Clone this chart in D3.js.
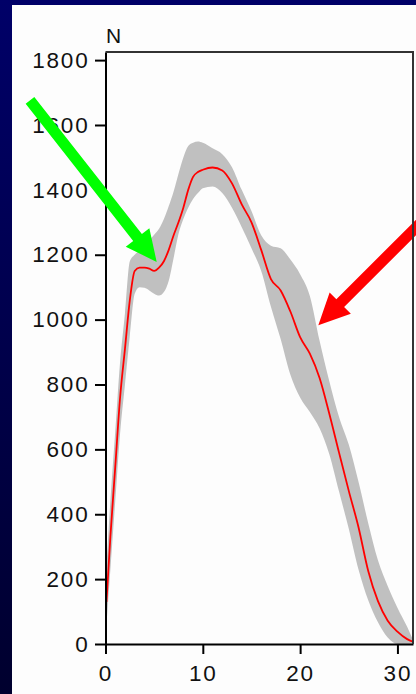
<!DOCTYPE html>
<html>
<head>
<meta charset="utf-8">
<script src="https://cdn.jsdelivr.net/npm/d3@7"></script>
<style>
  body { margin: 0; background: #000050; }
  svg { display: block; }
  .tick text { font-family: "Liberation Sans", Arial, sans-serif; font-size: 22.5px; letter-spacing: 1.8px; fill: #111; }
</style>
</head>
<body>
<div id="chart"></div>
<script>
// time (s) on x
const times = [0.1, 0.5, 1, 1.5, 2, 2.5, 3, 3.5, 4, 4.5, 5, 5.5, 6, 6.5, 7, 7.5, 8, 8.5, 9, 9.5,
  10, 11, 12, 13, 14, 15, 16, 17, 18, 19, 20, 21, 22, 23, 24, 25, 26, 27, 28, 29, 30, 31, 31.6];
// mean force (N), red line
const meanForce = [130, 330, 545, 760, 910, 1060, 1150, 1160, 1160, 1157, 1150, 1160, 1180, 1215, 1260, 1300, 1345, 1400, 1440, 1455,
  1462, 1469, 1460, 1420, 1355, 1300, 1215, 1125, 1090, 1025, 946, 895, 820, 710, 590, 472, 360, 225, 132, 72, 38, 15, 7];
// grey band
const upperForce = [240, 440, 655, 870, 1020, 1180, 1200, 1212, 1225, 1245, 1262, 1280, 1310, 1350, 1395, 1450, 1500, 1535, 1545, 1549,
  1545, 1528, 1510, 1470, 1400, 1335, 1260, 1228, 1220, 1185, 1140, 1073, 935, 810, 700, 615, 500, 372, 258, 179, 112, 53, 12];
const lowerForce = [60, 230, 440, 650, 800, 950, 1080, 1100, 1098, 1090, 1080, 1074, 1085, 1120, 1190, 1264, 1310, 1345, 1372, 1390,
  1405, 1410, 1390, 1345, 1285, 1220, 1150, 1040, 940, 830, 760, 715, 665, 585, 470, 355, 230, 135, 67, 20, 0, 0, 0];

const yTicks = [0, 200, 400, 600, 800, 1000, 1200, 1400, 1600, 1800];
const xTicks = [0, 10, 20, 30];
const yLabel = 'N';

// annotation arrows, tail -> tip in data units
const arrows = [
  { color: '#00ff00', from: [-7.76, 1676], to: [5.26, 1178] },
  { color: '#ff0000', from: [34.4, 1359], to: [21.87, 983] },
];

const W = 416;
const H = 694;
const margin = { top: 52, right: 3, bottom: 50, left: 105.5 };

const svg = d3.select('#chart').append('svg')
  .attr('width', W)
  .attr('height', H);

const grad = svg.append('defs').append('linearGradient')
  .attr('id', 'bg')
  .attr('x1', 0).attr('y1', 0).attr('x2', 0).attr('y2', 1);
grad.append('stop').attr('offset', '0%').attr('stop-color', '#000068');
grad.append('stop').attr('offset', '100%').attr('stop-color', '#00002e');

svg.append('rect').attr('width', W).attr('height', H).attr('fill', 'url(#bg)');
svg.append('rect').attr('x', 12).attr('y', 5).attr('width', W - 12).attr('height', H - 5).attr('fill', '#fdfdfd');

const x = d3.scaleLinear().domain([0, 31.6]).range([margin.left, W - margin.right]);
const y = d3.scaleLinear().domain([0, 1825]).range([H - margin.bottom, margin.top]);

const rows = times.map((t, i) => ({
  t, mean: meanForce[i], hi: upperForce[i], lo: lowerForce[i],
}));

svg.append('path')
  .datum(rows)
  .attr('fill', '#c0c0c0')
  .attr('d', d3.area()
    .x(d => x(d.t))
    .y0(d => y(d.lo))
    .y1(d => y(d.hi))
    .curve(d3.curveMonotoneX));

svg.append('path')
  .datum(rows)
  .attr('fill', 'none')
  .attr('stroke', '#ff0000')
  .attr('stroke-width', 1.8)
  .attr('d', d3.line()
    .x(d => x(d.t))
    .y(d => y(d.mean))
    .curve(d3.curveMonotoneX));

const yAxis = svg.append('g')
  .attr('transform', `translate(${margin.left}, 0)`)
  .call(d3.axisLeft(y).tickValues(yTicks).tickFormat(d3.format('d'))
    .tickSize(10.5).tickPadding(5.5).tickSizeOuter(0));

const xAxis = svg.append('g')
  .attr('transform', `translate(0, ${H - margin.bottom})`)
  .call(d3.axisBottom(x).tickValues(xTicks).tickFormat(d3.format('d'))
    .tickSize(10).tickPadding(11).tickSizeOuter(0));

[yAxis, xAxis].forEach((g) => {
  g.select('.domain').attr('stroke', '#000').attr('stroke-width', 2);
  g.selectAll('.tick line').attr('stroke', '#000').attr('stroke-width', 2);
});

svg.append('text')
  .attr('x', margin.left + 0.5)
  .attr('y', 43)
  .style('font-family', '"Liberation Sans", Arial, sans-serif')
  .style('font-size', '21px')
  .attr('fill', '#111')
  .text(yLabel);

function arrowPath(x0, y0, x1, y1, shaftW, headW, headL) {
  const dx = x1 - x0;
  const dy = y1 - y0;
  const len = Math.sqrt(dx * dx + dy * dy);
  const ux = dx / len;
  const uy = dy / len;
  const px = -uy;
  const py = ux;
  const bx = x1 - ux * headL;
  const by = y1 - uy * headL;
  const pts = [
    [x0 + px * shaftW / 2, y0 + py * shaftW / 2],
    [bx + px * shaftW / 2, by + py * shaftW / 2],
    [bx + px * headW / 2, by + py * headW / 2],
    [x1, y1],
    [bx - px * headW / 2, by - py * headW / 2],
    [bx - px * shaftW / 2, by - py * shaftW / 2],
    [x0 - px * shaftW / 2, y0 - py * shaftW / 2],
  ];
  return `M${pts.map(p => p.join(',')).join('L')}Z`;
}

svg.selectAll('.arrow')
  .data(arrows)
  .enter()
  .append('path')
  .attr('class', 'arrow')
  .attr('fill', d => d.color)
  .attr('d', d => arrowPath(x(d.from[0]), y(d.from[1]), x(d.to[0]), y(d.to[1]), 11, 30, 31));

// box: top and right edges
svg.append('path')
  .attr('fill', 'none')
  .attr('stroke', '#333')
  .attr('stroke-width', 2)
  .attr('d', d3.line()([
    [x(0), y(1825)],
    [x(31.6), y(1825)],
    [x(31.6), y(0)],
  ]));
</script>
</body>
</html>
